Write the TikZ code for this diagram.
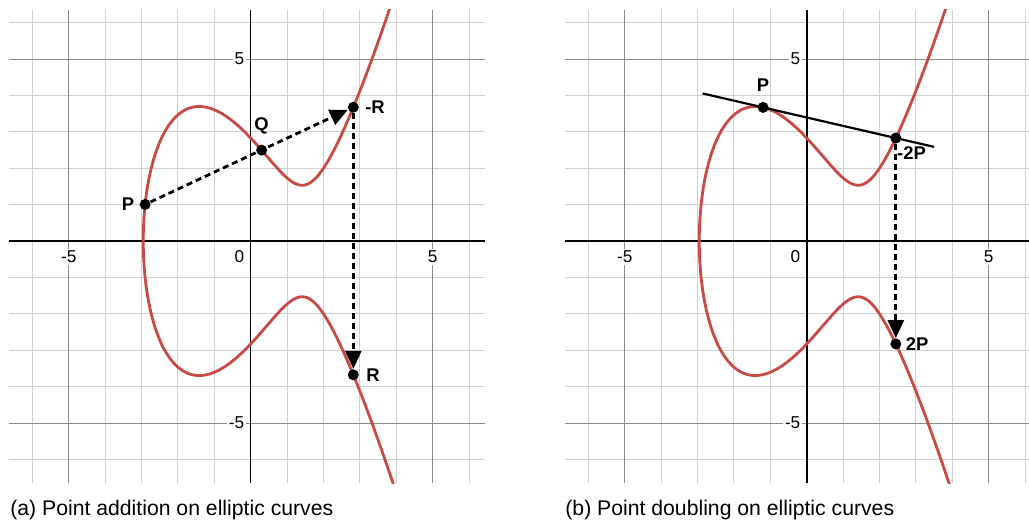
\documentclass[tikz,border=0pt]{standalone}
\usepackage{fontspec}
\setmainfont{Liberation Sans}
\usepackage{tikz}
\usetikzlibrary{arrows.meta,positioning}
\usepackage{xcolor}
\definecolor{ecred}{HTML}{C94A45}
\definecolor{gridlo}{HTML}{D0D0D0}
\definecolor{gridhi}{HTML}{8C8C8C}

\begin{document}
\begin{tikzpicture}[x=18.2pt,y=18.2pt,font=\fontsize{8.6}{10}\selectfont,
        declare function={ecx(\t)=-2.9514+\t*\t; ecf(\x)=\x*\x*\x-6*\x+8;},
        minor/.style={gridlo,line width=0.5pt},
        major/.style={gridhi,line width=0.5pt},
        axis/.style={black,line width=0.8pt},
        tick/.style={fill=white,inner sep=1pt},
        ec/.style={ecred,line width=1.4pt},
        dot/.style={circle,fill=black,inner sep=0pt,minimum size=5.5pt},
        ptl/.style={font=\fontsize{9.2}{11}\selectfont\bfseries},
        hop/.style={dash pattern=on 3pt off 2pt,line width=1.4pt,
                    -{Triangle[length=9pt,width=8pt]}},
        tan/.style={black,line width=1.1pt},
        capt/.style={anchor=west,inner sep=0pt,font=\fontsize{10.6}{12}\selectfont}]
  \useasboundingbox (-6.887,-7.830) rectangle (21.382,6.621);
  \foreach \ox/\xr/\k in {0/6.44/a,278/6.11/b}{
    \begin{scope}[xshift=\ox pt]
      \foreach \i in {-6,...,6}{
        \draw[minor] (\i,-6.65) -- (\i,6.35);
        \draw[minor] (-6.64,\i) -- (\xr,\i);
      }
      \foreach \i in {-5,5}{
        \draw[major] (\i,-6.65) -- (\i,6.35);
        \draw[major] (-6.64,\i) -- (\xr,\i);
      }
      \draw[axis] (-6.64,0) -- (\xr,0);
      \draw[axis] (0,-6.65) -- (0,6.35);
      \foreach \i in {-5,5}{
        \node[tick,anchor=north] (x\k\i) at ([yshift=-3.6pt]\i,0) {\i};
        \node[tick,anchor=east] (y\k\i) at ([xshift=-2pt]0,\i) {\i};
      }
      \node[tick,anchor=north east] (o\k) at (-2pt,-3.6pt) {0};
      \begin{scope}
        \clip (-6.64,-6.65) rectangle (\xr,6.35);
        \draw[ec] plot[domain=-2.66:2.66,samples=181,variable=\t,smooth]
          ({ecx(\t)},{ifthenelse(\t<0,-1,1)*sqrt(abs(ecf(ecx(\t))))});
      \end{scope}
    \end{scope}
  }
  % (a) addition
  \node[dot] (p) at (-2.9,1.005) {};
  \node[dot] (q) at (0.3,2.497) {};
  \node[dot] (mr) at (2.819,3.675) {};
  \node[dot] (r) at (2.819,-3.675) {};
  \node[ptl,left=-1pt of p] (pl) {P};
  \node[ptl,above=1.5pt of q] (ql) {Q};
  \node[ptl,right=-0.5pt of mr] (mrl) {-R};
  \node[ptl,right=0pt of r] (rl) {R};
  \draw[hop] (p) -- (mr);
  \draw[hop] (mr) -- (r);
  \node[capt] (capa) at (-6.613,-7.39) {(a) Point addition on elliptic curves};
  % (b) doubling
  \begin{scope}[xshift=278pt]
    \coordinate (ta) at (-2.86,4.054);
    \coordinate (tb) at (3.5,2.586);
    \draw[tan] (ta) -- (tb);
    \node[dot] (dp) at (-1.198,3.670) {};
    \node[dot] (m2p) at (2.449,2.828) {};
    \node[dot] (d2p) at (2.449,-2.828) {};
    \node[ptl,above=1.5pt of dp] (dpl) {P};
    \node[ptl,inner sep=1pt,below right=1.2pt and -2.6pt of m2p] (m2pl) {-2P};
    \node[ptl,right=-1.5pt of d2p] (d2pl) {2P};
    \draw[hop] (m2p) -- (d2p);
  \end{scope}
  \node[capt] (capb) at (8.635,-7.39) {(b) Point doubling on elliptic curves};
\end{tikzpicture}
\end{document}
